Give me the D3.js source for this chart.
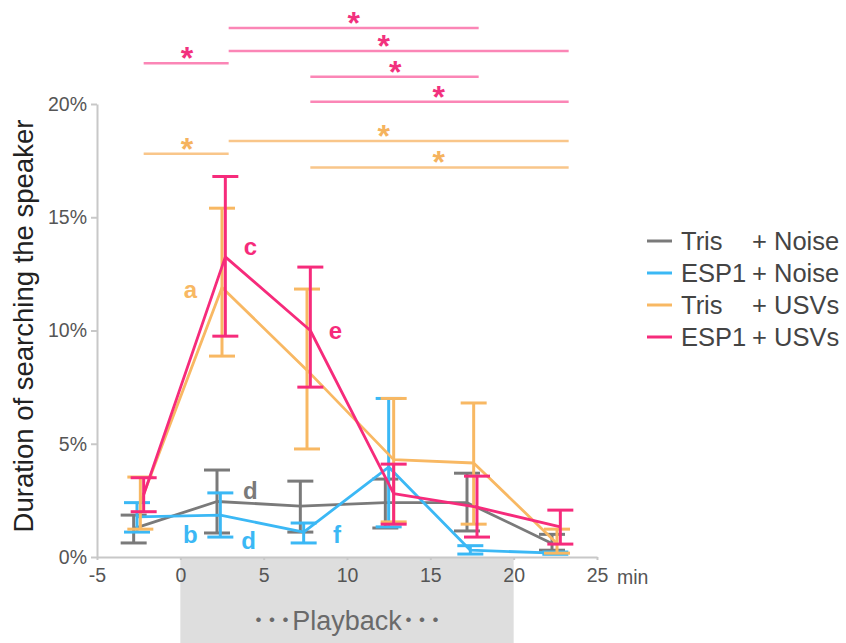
<!DOCTYPE html>
<html><head><meta charset="utf-8">
<script src="https://cdn.jsdelivr.net/npm/d3@7"></script>
<style>body{margin:0;background:#fff}svg{display:block}text{font-family:"Liberation Sans",Arial,"Noto Sans CJK JP",sans-serif}</style>
</head><body><svg id="c" width="846" height="643"></svg>
<script>
// ---- data ----
const seriesNames = ["Tris + Noise", "ESP1 + Noise", "Tris + USVs", "ESP1 + USVs"];
const legendLeft = ["Tris", "ESP1", "Tris", "ESP1"];
const legendRight = ["+ Noise", "+ Noise", "+ USVs", "+ USVs"];
const seriesColors = ["#7a7a7a", "#3bb8f5", "#f8b863", "#f62b7b"];

const trisNoiseX = [-2.8, 2.2, 7.2, 12.3, 17.2, 22.3];
const trisNoiseMean = [1.25, 2.45, 2.25, 2.4, 2.4, 0.6];
const trisNoiseHi = [1.85, 3.84, 3.35, 3.44, 3.7, 1.0];
const trisNoiseLo = [0.62, 1.06, 1.1, 1.28, 1.15, 0.3];

const espNoiseX = [-2.6, 2.4, 7.4, 12.5, 17.4, 22.5];
const espNoiseMean = [1.77, 1.85, 1.1, 3.97, 0.3, 0.17];
const espNoiseHi = [2.4, 2.83, 1.5, 7.0, 0.5, 0.22];
const espNoiseLo = [1.1, 0.88, 0.62, 1.33, 0.13, 0.12];

const trisUsvX = [-2.4, 2.5, 7.6, 12.8, 17.6, 22.6];
const trisUsvMean = [2.4, 11.9, 8.25, 4.3, 4.15, 0.6];
const trisUsvHi = [3.53, 15.4, 11.83, 7.0, 6.8, 1.23];
const trisUsvLo = [1.23, 8.87, 4.77, 1.55, 1.45, 0.17];

const espUsvX = [-2.2, 2.7, 7.8, 12.8, 17.8, 22.8];
const espUsvMean = [2.75, 13.25, 10.0, 2.8, 2.2, 1.33];
const espUsvHi = [3.5, 16.8, 12.8, 4.1, 3.57, 2.07];
const espUsvLo = [2.0, 9.75, 7.5, 1.45, 0.88, 0.57];

const xTicks = [-5, 0, 5, 10, 15, 20, 25];
const yTicks = [0, 5, 10, 15, 20];

// significance bars (x in minutes, y in %)
const sigStart = [2.9, 2.9, -2.2, 7.8, 7.8, 2.9, -2.2, 7.8];
const sigEnd = [17.9, 23.3, 2.9, 17.9, 23.3, 23.3, 2.9, 23.3];
const sigStarX = [10.4, 12.2, 0.4, 12.9, 15.5, 12.2, 0.4, 15.5];
const sigY = [23.35, 22.34, 21.8, 21.2, 20.1, 18.37, 17.8, 17.2];
const sigSeries = [3, 3, 3, 3, 3, 2, 2, 2];

// letter annotations
const letterText = ["a", "c", "e", "d", "b", "d", "f"];
const letterX = [0.6, 4.2, 9.3, 4.2, 0.6, 4.1, 9.4];
const letterY = [11.8, 13.7, 10.0, 2.9, 0.95, 0.7, 0.95];
const letterSeries = [2, 3, 3, 0, 1, 1, 1];

const seriesData = [
  {x: trisNoiseX, m: trisNoiseMean, hi: trisNoiseHi, lo: trisNoiseLo},
  {x: espNoiseX, m: espNoiseMean, hi: espNoiseHi, lo: espNoiseLo},
  {x: trisUsvX, m: trisUsvMean, hi: trisUsvHi, lo: trisUsvLo},
  {x: espUsvX, m: espUsvMean, hi: espUsvHi, lo: espUsvLo}
];

// ---- drawing ----
const svg = d3.select("#c");
const x = d3.scaleLinear().domain([-5, 25]).range([97, 597]);
const y = d3.scaleLinear().domain([0, 20]).range([557, 104]);

// playback box
svg.append("rect").attr("x", x(0)).attr("y", 558).attr("width", x(20) - x(0)).attr("height", 85).attr("fill", "#dedede");
svg.append("text").attr("x", 347).attr("y", 630).attr("text-anchor", "middle")
  .attr("font-size", 27).attr("fill", "#6a6a6a").text("･･･Playback･･･");

// axes
const yAxis = svg.append("g").attr("transform", `translate(${x(-5)},0)`)
  .call(d3.axisLeft(y).tickValues(yTicks).tickFormat(d => d + "%").tickSize(6).tickSizeOuter(0));
const xAxis = svg.append("g").attr("transform", `translate(0,${y(0)})`)
  .call(d3.axisBottom(x).tickValues(xTicks).tickFormat(d => String(d)).tickSize(3).tickSizeOuter(0));
[yAxis, xAxis].forEach(g => {
  g.select(".domain").attr("stroke", "#c8c8c8").attr("stroke-width", 2);
  g.selectAll(".tick line").attr("stroke", "#c8c8c8").attr("stroke-width", 2);
  g.selectAll(".tick text").attr("fill", "#555").attr("font-size", 19.5).attr("font-family", '"Liberation Sans",Arial,sans-serif');
});
yAxis.selectAll(".tick text").attr("x", -10);
xAxis.selectAll(".tick text").attr("y", 11);
svg.append("text").attr("x", 617).attr("y", 584).attr("font-size", 19.5).attr("fill", "#555").text("min");

svg.append("text").attr("transform", `translate(33,326) rotate(-90)`)
  .attr("text-anchor", "middle").attr("font-size", 27.5).attr("fill", "#222")
  .text("Duration of searching the speaker");

// significance bars
sigY.forEach((v, i) => {
  const s = sigSeries[i];
  const col = s === 3 ? "#fb86b6" : "#f9c68a";
  const star = s === 3 ? "#f2317e" : "#f5b35e";
  svg.append("line").attr("x1", x(sigStart[i])).attr("x2", x(sigEnd[i]))
    .attr("y1", y(v)).attr("y2", y(v)).attr("stroke", col).attr("stroke-width", 2.5);
  svg.append("text").attr("x", x(sigStarX[i])).attr("y", y(v) + 6)
    .attr("text-anchor", "middle").attr("font-size", 32).attr("font-weight", "bold").attr("fill", star).text("*");
});

// series: lines then error bars
const cap = 13;
seriesData.forEach((s, si) => {
  const col = seriesColors[si];
  const pts = s.x.map((xv, i) => [xv, s.m[i]]);
  svg.append("path").attr("d", d3.line().x(d => x(d[0])).y(d => y(d[1]))(pts))
    .attr("fill", "none").attr("stroke", col).attr("stroke-width", 2.8).attr("stroke-linejoin", "round");
  const g = svg.append("g").attr("stroke", col).attr("stroke-width", 3);
  s.x.forEach((xv, i) => {
    g.append("line").attr("x1", x(xv)).attr("x2", x(xv)).attr("y1", y(s.hi[i])).attr("y2", y(s.lo[i]));
    g.append("line").attr("x1", x(xv) - cap).attr("x2", x(xv) + cap).attr("y1", y(s.hi[i])).attr("y2", y(s.hi[i]));
    g.append("line").attr("x1", x(xv) - cap).attr("x2", x(xv) + cap).attr("y1", y(s.lo[i])).attr("y2", y(s.lo[i]));
  });
});

// letters
letterText.forEach((t, i) => {
  svg.append("text").attr("x", x(letterX[i])).attr("y", y(letterY[i]) + 8).attr("text-anchor", "middle")
    .attr("font-size", 24).attr("font-weight", "bold").attr("font-family", '"Open Sans","DejaVu Sans",sans-serif')
    .attr("fill", seriesColors[letterSeries[i]]).text(t);
});

// legend
seriesNames.forEach((n, i) => {
  const ly = 241 + i * 32;
  svg.append("line").attr("x1", 647).attr("x2", 672).attr("y1", ly).attr("y2", ly)
    .attr("stroke", seriesColors[i]).attr("stroke-width", 3);
  svg.append("text").attr("x", 681).attr("y", ly + 9).attr("font-size", 25.5).attr("fill", "#444").text(legendLeft[i]);
  svg.append("text").attr("x", 752).attr("y", ly + 9).attr("font-size", 25.5).attr("fill", "#444").text(legendRight[i]);
});
</script></body></html>
